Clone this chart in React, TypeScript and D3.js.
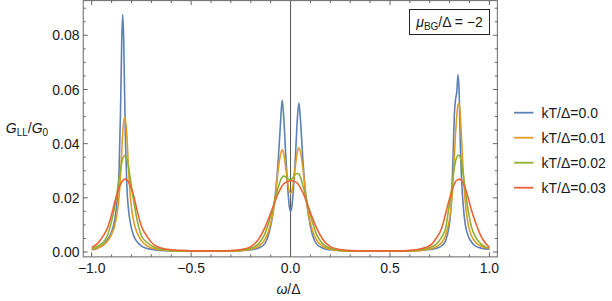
import * as d3 from 'd3';

// ω/Δ sample grid (denser around the peaks)
const omega = [
  -1.0, -0.97, -0.94, -0.92, -0.9, -0.885, -0.872, -0.862, -0.855, -0.849, -0.844, -0.839, -0.834,
  -0.829, -0.823, -0.815, -0.805, -0.79, -0.77, -0.75, -0.72, -0.68, -0.62, -0.55, -0.45, -0.38,
  -0.3, -0.25, -0.2, -0.16, -0.13, -0.11, -0.09, -0.075, -0.062, -0.051, -0.042, -0.034, -0.024,
  -0.014, -0.007, 0, 0.007, 0.014, 0.024, 0.034, 0.042, 0.051, 0.062, 0.075, 0.09, 0.11, 0.13,
  0.16, 0.2, 0.25, 0.3,
  0.38, 0.45, 0.55, 0.6, 0.65, 0.7, 0.73, 0.76, 0.78, 0.795, 0.805, 0.812, 0.818, 0.824, 0.83,
  0.836, 0.842, 0.848, 0.854, 0.86, 0.868, 0.878, 0.89, 0.91, 0.93, 0.96, 1.0,
];

const gKT000 = [
  0.0008, 0.0014, 0.0028, 0.0047, 0.0074, 0.0117, 0.019, 0.031, 0.052, 0.078, 0.0877, 0.078, 0.056,
  0.038, 0.024, 0.0158, 0.0105, 0.0062, 0.0036, 0.0022, 0.0013, 0.0008, 0.0005, 0.0004, 0.0003, 0.0003,
  0.0004, 0.0005, 0.0008, 0.0015, 0.003, 0.0065, 0.0135, 0.0222, 0.0338, 0.047, 0.0561, 0.0495, 0.0355,
  0.0235, 0.0172, 0.0149, 0.017, 0.0228, 0.0345, 0.049, 0.0551, 0.0475, 0.034, 0.0222, 0.0135, 0.0064, 0.003,
  0.0015, 0.0008, 0.0005, 0.0004,
  0.0003, 0.0003, 0.0003, 0.0004, 0.0006, 0.0009, 0.0013, 0.0023, 0.0042, 0.0085, 0.0145, 0.024, 0.037, 0.051, 0.0565,
  0.059, 0.0655, 0.059, 0.039, 0.027, 0.0175, 0.0105, 0.0066, 0.0037, 0.0022, 0.0014, 0.001,
];

const gKT001 = [
  0.001, 0.0015, 0.0026, 0.0041, 0.0065, 0.0095, 0.0145, 0.0207, 0.0283, 0.037, 0.044, 0.048, 0.0497,
  0.048, 0.0428, 0.031, 0.0198, 0.0117, 0.0068, 0.0042, 0.0022, 0.0011, 0.0006, 0.0004, 0.0003, 0.0003,
  0.0003, 0.0005, 0.001, 0.0022, 0.0045, 0.0079, 0.0138, 0.0215, 0.0305, 0.0358, 0.0377, 0.0362, 0.031,
  0.0252, 0.0225, 0.0217, 0.0226, 0.0256, 0.0316, 0.037, 0.0385, 0.0365, 0.031, 0.022, 0.014, 0.008, 0.0045,
  0.0022, 0.001, 0.0005, 0.0003,
  0.0003, 0.0003, 0.0003, 0.0004, 0.0005, 0.0011, 0.0018, 0.0035, 0.0062, 0.0105, 0.015, 0.0205, 0.028, 0.036, 0.044,
  0.0505, 0.0543, 0.0549, 0.05, 0.0415, 0.03, 0.019, 0.0115, 0.006, 0.0036, 0.0021, 0.0013,
];

const gKT002 = [
  0.0013, 0.0021, 0.0038, 0.0062, 0.0114, 0.0164, 0.0222, 0.0272, 0.0305, 0.033, 0.0345, 0.0353, 0.0356,
  0.0353, 0.0342, 0.0314, 0.0267, 0.0194, 0.0112, 0.006, 0.0034, 0.0016, 0.0007, 0.0004, 0.0003, 0.0003,
  0.0004, 0.0007, 0.0014, 0.0031, 0.0065, 0.0108, 0.0158, 0.0203, 0.0238, 0.0264, 0.0277, 0.028, 0.0277,
  0.0271, 0.0268, 0.0267, 0.027, 0.0276, 0.0286, 0.029, 0.0288, 0.0274, 0.0246, 0.021, 0.0162, 0.011, 0.0066,
  0.0031, 0.0014, 0.0007, 0.0004,
  0.0003, 0.0003, 0.0003, 0.0004, 0.0008, 0.0016, 0.0027, 0.0055, 0.0088, 0.0158, 0.0205, 0.0245, 0.028, 0.0312, 0.0336,
  0.035, 0.0357, 0.0357, 0.0348, 0.0328, 0.029, 0.0235, 0.0168, 0.0092, 0.0056, 0.0028, 0.0013,
];

const gKT003 = [
  0.0017, 0.0032, 0.0062, 0.009, 0.0138, 0.0182, 0.0215, 0.0238, 0.025, 0.0258, 0.0263, 0.0267, 0.0269,
  0.0269, 0.0266, 0.0258, 0.0243, 0.021, 0.0148, 0.0095, 0.0056, 0.0023, 0.001, 0.0006, 0.0004, 0.0004,
  0.0005, 0.0009, 0.002, 0.0048, 0.0088, 0.0124, 0.0163, 0.0193, 0.0217, 0.0232, 0.0244, 0.0252, 0.0257,
  0.026, 0.0262, 0.0263, 0.0263, 0.0262, 0.0259, 0.0254, 0.0247, 0.0235, 0.022, 0.0196, 0.0165, 0.0126, 0.009,
  0.0049, 0.002, 0.0009, 0.0005,
  0.0004, 0.0004, 0.0004, 0.0006, 0.0011, 0.0023, 0.0048, 0.0088, 0.0142, 0.0185, 0.021, 0.0227, 0.024, 0.0251, 0.026,
  0.0265, 0.0268, 0.0269, 0.0267, 0.0264, 0.0254, 0.0236, 0.0208, 0.0154, 0.011, 0.0055, 0.0017,
];

const seriesLabels = ['kT/Δ=0.0', 'kT/Δ=0.01', 'kT/Δ=0.02', 'kT/Δ=0.03'];
const seriesValues = [gKT000, gKT001, gKT002, gKT003];
const colors = ['#5E81B5', '#E19C24', '#8FB032', '#EB6235'];

const xMajor = [-1, -0.5, 0, 0.5, 1];
const yMajor = [0, 0.02, 0.04, 0.06, 0.08];

const FONT = "'Liberation Sans', Arial, sans-serif";

export default function App() {
  const x = d3.scaleLinear().domain([-1, 1]).range([91.7, 489.4]);
  const y = d3.scaleLinear().domain([0, 0.08]).range([252, 35.3]);

  const left = x(-1.0425), right = x(1.04);
  const top = y(0.0928), bottom = y(-0.0018);

  const xMinor = d3.range(-10, 11).map(i => i / 10).filter(v => !xMajor.some(m => Math.abs(m - v) < 1e-9));
  const yMinor = d3.range(0, 19).map(i => i * 0.005).filter(v => !yMajor.some(m => Math.abs(m - v) < 1e-9));

  const line = d3.line<[number, number]>()
    .x(d => x(d[0]))
    .y(d => y(d[1]))
    .curve(d3.curveMonotoneX);

  const fx = d3.format('.1f');
  const fy = d3.format('.2f');
  const frame = '#666';
  const txt = '#1a1a1a';
  const maj = 4.5, mnr = 2.5;

  return (
    <svg width={612} height={301} style={{ position: 'absolute', left: 0, top: 0 }} fontFamily={FONT}>
      <rect width={612} height={301} fill="#fff" />

      {/* zero line */}
      <line x1={x(0)} x2={x(0)} y1={top} y2={bottom} stroke="#555" strokeWidth={1} />

      {seriesValues.map((vals, i) => (
        <path key={i}
          d={line(omega.map((w, j) => [w, vals[j]] as [number, number])) ?? ''}
          fill="none" stroke={colors[i]} strokeWidth={1.6} strokeLinejoin="round" />
      ))}

      {/* frame */}
      <rect x={left} y={top} width={right - left} height={bottom - top} fill="none" stroke={frame} strokeWidth={1} />

      {/* x ticks bottom + top */}
      {xMajor.map(v => (
        <g key={'xM' + v}>
          <line x1={x(v)} x2={x(v)} y1={bottom} y2={bottom - maj} stroke={frame} />
          <line x1={x(v)} x2={x(v)} y1={top} y2={top + maj} stroke={frame} />
          <text x={x(v)} y={273} textAnchor="middle" fontSize={14} fill={txt}>{fx(v)}</text>
        </g>
      ))}
      {xMinor.map(v => (
        <g key={'xm' + v}>
          <line x1={x(v)} x2={x(v)} y1={bottom} y2={bottom - mnr} stroke={frame} />
          <line x1={x(v)} x2={x(v)} y1={top} y2={top + mnr} stroke={frame} />
        </g>
      ))}

      {/* y ticks left + right */}
      {yMajor.map(v => (
        <g key={'yM' + v}>
          <line x1={left} x2={left + maj} y1={y(v)} y2={y(v)} stroke={frame} />
          <line x1={right} x2={right - maj} y1={y(v)} y2={y(v)} stroke={frame} />
          <text x={79.5} y={y(v)} dy="0.36em" textAnchor="end" fontSize={14} fill={txt}>{fy(v)}</text>
        </g>
      ))}
      {yMinor.map(v => (
        <g key={'ym' + v}>
          <line x1={left} x2={left + mnr} y1={y(v)} y2={y(v)} stroke={frame} />
          <line x1={right} x2={right - mnr} y1={y(v)} y2={y(v)} stroke={frame} />
        </g>
      ))}

      {/* axis labels */}
      <text x={27} y={132.5} textAnchor="middle" fontSize={14} fill={txt}>
        <tspan fontStyle="italic">G</tspan>
        <tspan fontSize={10} dy={3}>LL</tspan>
        <tspan dy={-3}>/</tspan>
        <tspan fontStyle="italic">G</tspan>
        <tspan fontSize={10} dy={3}>0</tspan>
      </text>
      <text x={288.5} y={294} textAnchor="middle" fontSize={14} fill={txt}>
        <tspan fontStyle="italic">ω</tspan>/Δ
      </text>

      {/* parameter box */}
      <rect x={409.5} y={9.5} width={80} height={25} fill="#fff" stroke="#222" strokeWidth={1} />
      <text x={449.5} y={26.5} textAnchor="middle" fontSize={14} fill={txt}>
        <tspan fontStyle="italic">μ</tspan>
        <tspan fontSize={10} dy={3}>BG</tspan>
        <tspan dy={-3}>/Δ = −2</tspan>
      </text>

      {/* legend */}
      {seriesLabels.map((s, i) => (
        <g key={s} transform={`translate(514, ${112.7 + i * 25})`}>
          <line x1={0} x2={19.5} y1={0} y2={0} stroke={colors[i]} strokeWidth={1.8} />
          <text x={27.5} y={0} dy="0.36em" fontSize={14} fill={txt}>{s}</text>
        </g>
      ))}
    </svg>
  );
}
